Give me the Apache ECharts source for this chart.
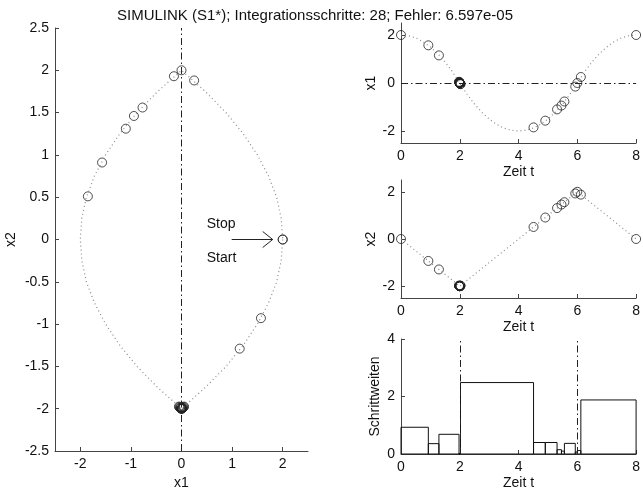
<!DOCTYPE html>
<html>
<head>
<meta charset="utf-8">
<script src="https://cdn.jsdelivr.net/npm/echarts@6/dist/echarts.min.js"></script>
<style>
  html, body { margin: 0; padding: 0; background: #fff; }
  #chart { width: 643px; height: 495px; }
</style>
</head>
<body>
<div id="chart"></div>
<script>
// Exact trajectory of the double integrator, sampled every 0.25 s
const trajT  = [0, 0.25, 0.5, 0.75, 1, 1.25, 1.5, 1.75, 2, 2.25, 2.5, 2.75, 3, 3.25, 3.5, 3.75, 4,
                4.25, 4.5, 4.75, 5, 5.25, 5.5, 5.75, 6, 6.25, 6.5, 6.75, 7, 7.25, 7.5, 7.75, 8];
const trajX1 = [2, 1.97, 1.88, 1.72, 1.5, 1.22, 0.88, 0.47, 0, -0.47, -0.88, -1.22, -1.5, -1.72, -1.88, -1.97, -2,
                -1.97, -1.88, -1.72, -1.5, -1.22, -0.88, -0.47, 0, 0.47, 0.88, 1.22, 1.5, 1.72, 1.88, 1.97, 2];
const trajX2 = [0, -0.25, -0.5, -0.75, -1, -1.25, -1.5, -1.75, -2, -1.75, -1.5, -1.25, -1, -0.75, -0.5, -0.25, 0,
                0.25, 0.5, 0.75, 1, 1.25, 1.5, 1.75, 2, 1.75, 1.5, 1.25, 1, 0.75, 0.5, 0.25, 0];

// Integration points of the SIMULINK solver (29 points, 28 steps)
const stepT  = [0, 0.93, 1.29,
                1.975, 1.98, 1.985, 1.99, 1.993, 1.996, 1.998, 1.999, 2.0, 2.001, 2.002, 2.004, 2.007, 2.01, 2.014, 2.02, 2.025,
                4.51, 4.91, 5.31, 5.46, 5.56, 5.93, 6.0, 6.12, 8.0];
const stepX1 = [2.0, 1.57, 1.15,
                0.05, 0.04, 0.03, 0.02, 0.014, 0.008, 0.004, 0.002, 0.0, -0.002, -0.004, -0.008, -0.014, -0.02, -0.028, -0.04, -0.05,
                -1.85, -1.57, -1.1, -0.94, -0.77, -0.15, 0.0, 0.25, 2.0];
const stepX2 = [0, -0.93, -1.29,
                -1.975, -1.98, -1.985, -1.99, -1.993, -1.996, -1.998, -1.999, -2.0, -1.999, -1.998, -1.996, -1.993, -1.99, -1.986, -1.98, -1.975,
                0.51, 0.91, 1.31, 1.46, 1.56, 1.93, 2.0, 1.88, 0.0];

// Switching times (x1 crosses zero)
const switchT = [2, 6];

const titleText = 'SIMULINK (S1*); Integrationsschritte: 28; Fehler: 6.597e-05';

const FONT = '"Liberation Sans", Arial, Helvetica, sans-serif';
const INK = '#111';
const AXIS = '#444';
const DOT = '#8a8a8a';
const DASHDOT = [7, 3, 1.5, 3];

const zip = (a, b) => a.map((v, i) => [v, b[i]]);

function axisBase(extra) {
  return Object.assign({
    type: 'value',
    axisLine: { show: true, onZero: false, lineStyle: { color: AXIS, width: 1 } },
    axisTick: { show: true, inside: true, length: 4, lineStyle: { color: AXIS } },
    axisLabel: { color: INK, fontFamily: FONT, fontSize: 14, margin: 6 },
    splitLine: { show: false },
    nameLocation: 'middle',
    nameTextStyle: { color: INK, fontFamily: FONT, fontSize: 14 }
  }, extra);
}

function customTicks(values) {
  return {
    axisTick: { show: true, inside: true, length: 4, lineStyle: { color: AXIS }, customValues: values },
    axisLabel: { color: INK, fontFamily: FONT, fontSize: 14, margin: 6, customValues: values }
  };
}

const chart = echarts.init(document.getElementById('chart'), null, { renderer: 'canvas' });

// Step-size rectangles: each integration step from t_i to t_{i+1}, height = step size
const stepRects = stepT.slice(0, -1).map((t, i) => [t, stepT[i + 1], stepT[i + 1] - t]);

const option = {
  backgroundColor: '#fff',
  animation: false,
  title: {
    text: titleText,
    left: 112,
    top: 3,
    textStyle: { color: INK, fontFamily: FONT, fontSize: 15, fontWeight: 'normal' }
  },
  grid: [
    { left: 55, top: 28, width: 253, height: 428 },
    { left: 401, top: 23, width: 236, height: 120 },
    { left: 401, top: 180, width: 236, height: 118 },
    { left: 401, top: 339, width: 236, height: 115 }
  ],
  xAxis: [
    axisBase(Object.assign({ gridIndex: 0, min: -2.5, max: 2.5, name: 'x1', nameGap: 25 }, customTicks([-2, -1, 0, 1, 2]))),
    axisBase({ gridIndex: 1, min: 0, max: 8, interval: 2, name: 'Zeit t', nameGap: 22 }),
    axisBase({ gridIndex: 2, min: 0, max: 8, interval: 2, name: 'Zeit t', nameGap: 22 }),
    axisBase({ gridIndex: 3, min: 0, max: 8, interval: 2, name: 'Zeit t', nameGap: 22 })
  ],
  yAxis: [
    axisBase({ gridIndex: 0, min: -2.5, max: 2.5, interval: 0.5, name: 'x2', nameGap: 37 }),
    axisBase(Object.assign({ gridIndex: 1, min: -2.5, max: 2.5, name: 'x1', nameGap: 23 }, customTicks([-2, 0, 2]))),
    axisBase(Object.assign({ gridIndex: 2, min: -2.5, max: 2.5, name: 'x2', nameGap: 23 }, customTicks([-2, 0, 2]))),
    axisBase({ gridIndex: 3, min: 0, max: 4, interval: 2, name: 'Schrittweiten', nameGap: 19 })
  ],
  series: [
    // Phase plane: trajectory, integration points, x1 = 0 line
    {
      type: 'line', xAxisIndex: 0, yAxisIndex: 0,
      data: zip(trajX1, trajX2), showSymbol: false, silent: true,
      lineStyle: { color: DOT, width: 1.2, type: [1, 3] },
      markLine: {
        silent: true, symbol: 'none', label: { show: false },
        lineStyle: { color: '#222', width: 1, type: DASHDOT },
        data: [{ xAxis: 0 }]
      }
    },
    {
      type: 'scatter', xAxisIndex: 0, yAxisIndex: 0,
      data: zip(stepX1, stepX2), symbol: 'circle', symbolSize: 9,
      itemStyle: { color: 'rgba(0,0,0,0)', borderColor: '#222', borderWidth: 1 }
    },
    // Stop / Start annotation with arrow to the initial point
    {
      type: 'custom', xAxisIndex: 0, yAxisIndex: 0, silent: true,
      data: [[2, 0]],
      renderItem: function (params, api) {
        const tip = api.coord([api.value(0), api.value(1)]);
        const endX = tip[0] - 10;
        const startX = tip[0] - 51;
        const y = tip[1];
        const txtStyle = { fill: INK, font: '14px ' + FONT, textAlign: 'left', textVerticalAlign: 'middle' };
        return {
          type: 'group',
          children: [
            { type: 'line', shape: { x1: startX, y1: y, x2: endX, y2: y }, style: { stroke: '#222', lineWidth: 1 } },
            { type: 'polyline', shape: { points: [[endX - 10, y - 8], [endX, y], [endX - 10, y + 8]] },
              style: { stroke: '#222', lineWidth: 1, fill: null } },
            { type: 'text', x: startX - 25, y: y - 15, style: Object.assign({ text: 'Stop' }, txtStyle) },
            { type: 'text', x: startX - 25, y: y + 19, style: Object.assign({ text: 'Start' }, txtStyle) }
          ]
        };
      }
    },
    // x1(t)
    {
      type: 'line', xAxisIndex: 1, yAxisIndex: 1,
      data: zip(trajT, trajX1), showSymbol: false, silent: true,
      lineStyle: { color: DOT, width: 1.2, type: [1, 3] },
      markLine: {
        silent: true, symbol: 'none', label: { show: false },
        lineStyle: { color: '#222', width: 1, type: DASHDOT },
        data: [{ yAxis: 0 }]
      }
    },
    {
      type: 'scatter', xAxisIndex: 1, yAxisIndex: 1,
      data: zip(stepT, stepX1), symbol: 'circle', symbolSize: 9,
      itemStyle: { color: 'rgba(0,0,0,0)', borderColor: '#222', borderWidth: 1 }
    },
    // x2(t)
    {
      type: 'line', xAxisIndex: 2, yAxisIndex: 2,
      data: zip(trajT, trajX2), showSymbol: false, silent: true,
      lineStyle: { color: DOT, width: 1.2, type: [1, 3] }
    },
    {
      type: 'scatter', xAxisIndex: 2, yAxisIndex: 2,
      data: zip(stepT, stepX2), symbol: 'circle', symbolSize: 9,
      itemStyle: { color: 'rgba(0,0,0,0)', borderColor: '#222', borderWidth: 1 }
    },
    // Step sizes
    {
      type: 'custom', xAxisIndex: 3, yAxisIndex: 3, silent: true,
      data: stepRects,
      encode: { x: [0, 1], y: 2 },
      renderItem: function (params, api) {
        const p0 = api.coord([api.value(0), 0]);
        const p1 = api.coord([api.value(1), api.value(2)]);
        return {
          type: 'rect',
          shape: { x: p0[0], y: p1[1], width: p1[0] - p0[0], height: p0[1] - p1[1] },
          style: { stroke: '#111', lineWidth: 1, fill: null }
        };
      },
      markLine: {
        silent: true, symbol: 'none', label: { show: false },
        lineStyle: { color: '#222', width: 1, type: DASHDOT },
        data: switchT.map(t => ({ xAxis: t }))
      }
    }
  ]
};

chart.setOption(option);
</script>
</body>
</html>
